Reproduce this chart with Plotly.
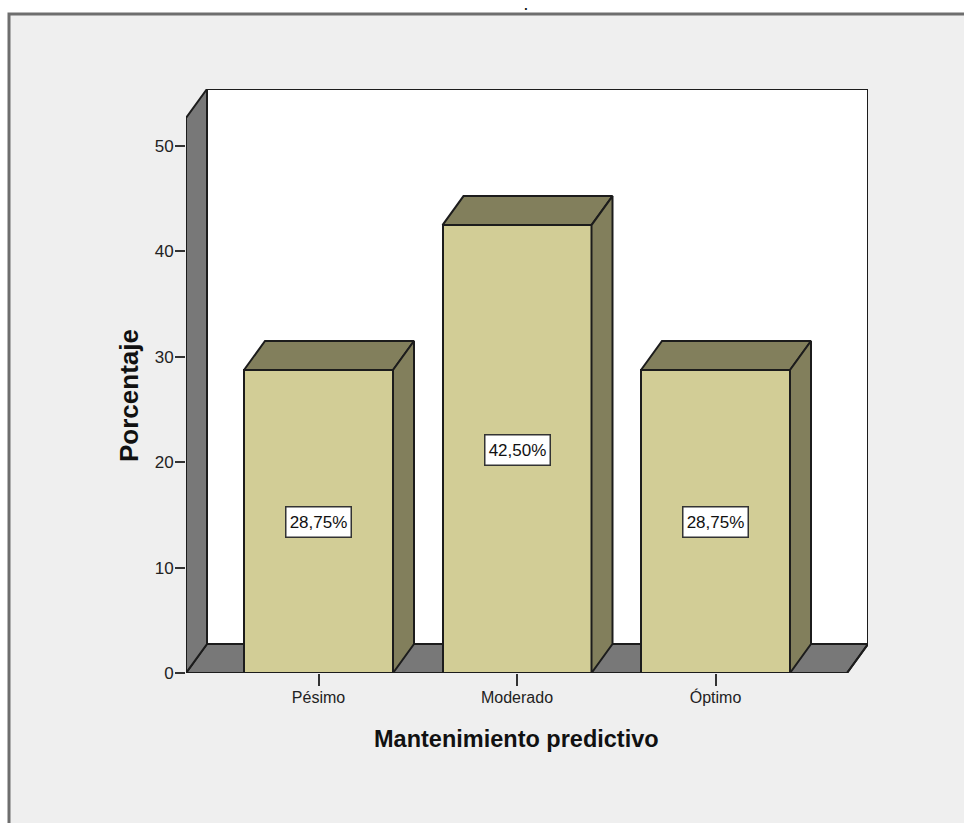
import plotly.graph_objects as go

# Chart data
categories = ["Pésimo", "Moderado", "Óptimo"]
percentages = [28.75, 42.50, 28.75]
y_ticks = [0, 10, 20, 30, 40, 50]
x_title = "Mantenimiento predictivo"
y_title = "Porcentaje"

# Page and plot geometry in pixels
W, H = 964, 823
PLOT_L, PLOT_R, PLOT_T, PLOT_B = 186, 868, 89, 673
PX_PER_CAT = 198.5
PX_PER_UNIT = 10.54
CAT0_PX = 318.5

# Extruded look: depth offset in axis units
DX = 21 / PX_PER_CAT
DY = 29 / PX_PER_UNIT
BAR_W = 149 / PX_PER_CAT
X0 = (PLOT_L - CAT0_PX) / PX_PER_CAT
X1 = (PLOT_R - CAT0_PX) / PX_PER_CAT
Y1 = (PLOT_B - PLOT_T) / PX_PER_UNIT
FRONT_R = X1 - DX
FRONT_T = Y1 - DY

FACE = "#D2CD96"
SHADE = "#827F5C"
WALL = "#787878"
EDGE = "#1c1c1c"
PANEL = "#EFEFEF"
SANS = "Liberation Sans, Arial, sans-serif"


def paper_x(px):
    return (px - PLOT_L) / (PLOT_R - PLOT_L)


def paper_y(py):
    return (PLOT_B - py) / (PLOT_B - PLOT_T)


def outline(xs, ys):
    """Dark edge that may overhang the plot rectangle."""
    return go.Scatter(
        x=xs, y=ys, mode="lines", line=dict(color=EDGE, width=2),
        hoverinfo="skip", showlegend=False, cliponaxis=False,
    )


def poly(xs, ys, fill):
    """Closed filled polygon in data coordinates."""
    return go.Scatter(
        x=xs + xs[:1], y=ys + ys[:1], mode="lines", fill="toself", fillcolor=fill,
        line=dict(color=EDGE, width=2), hoverinfo="skip", showlegend=False,
        cliponaxis=False,
    )


fig = go.Figure()

# Front faces of the columns
fig.add_trace(go.Bar(
    x=list(range(len(categories))), y=percentages, width=BAR_W,
    marker=dict(color=FACE, line=dict(color=EDGE, width=2)),
    showlegend=False, hoverinfo="skip",
))

# Left wall of the chart box
fig.add_trace(poly([X0, X0 + DX, X0 + DX, X0], [FRONT_T, Y1, DY, 0], WALL))

# Top and side faces of each column
for i, v in enumerate(percentages):
    l, r = i - BAR_W / 2, i + BAR_W / 2
    fig.add_trace(poly([l, r, r + DX, l + DX], [v, v, v + DY, v + DY], SHADE))
    fig.add_trace(poly([r, r + DX, r + DX, r], [v, v + DY, DY, 0], SHADE))

# Outer edges of the box: floor front, back wall top and right, floor right
fig.add_trace(outline([X0, FRONT_R], [0, 0]))
fig.add_trace(outline([X0 + DX, X1, X1, FRONT_R], [Y1, Y1, DY, 0]))

shapes = [
    # Grey panel with its dark top and left rules
    dict(type="rect", xref="paper", yref="paper", layer="below",
         x0=paper_x(9), x1=paper_x(W + 5), y0=paper_y(H + 5), y1=paper_y(14),
         fillcolor=PANEL, line=dict(color="#6e6e6e", width=3)),
    # White back wall
    dict(type="rect", layer="below", x0=X0 + DX, x1=X1, y0=DY, y1=Y1,
         fillcolor="white", line=dict(color=EDGE, width=2)),
    # Floor
    dict(type="path", layer="below",
         path=f"M {X0},0 L {FRONT_R},0 L {X1},{DY} L {X0 + DX},{DY} Z",
         fillcolor=WALL, line=dict(color=EDGE, width=2)),
]

annotations = [
    # Percentage labels at mid-height of each column
    dict(x=i, y=v / 2, yshift=-1, text=f"{v:.2f}".replace(".", ",") + "%", showarrow=False,
         font=dict(family=SANS, size=17, color="#111111"), width=64, height=29,
         bgcolor="white", bordercolor="#333333", borderwidth=1.5, borderpad=0)
    for i, v in enumerate(percentages)
]
# Chart title holds only a period
annotations.append(dict(xref="paper", yref="paper", x=paper_x(526), y=paper_y(0),
                        text="<b>.</b>", showarrow=False, xanchor="center", yanchor="top",
                        borderpad=0, font=dict(family="DejaVu Sans", size=10, color="#111111")))
annotations.append(dict(xref="paper", yref="paper", x=paper_x(516), y=paper_y(739),
                        text=f"<b>{x_title}</b>", showarrow=False,
                        xanchor="center", yanchor="middle",
                        font=dict(family=SANS, size=23.5, color="#111111")))
annotations.append(dict(xref="paper", yref="paper", x=paper_x(129), y=paper_y(396),
                        text=f"<b>{y_title}</b>", showarrow=False, textangle=-90,
                        xanchor="center", yanchor="middle",
                        font=dict(family=SANS, size=26, color="#111111")))

fig.update_layout(
    width=W, height=H, autosize=False, bargap=0,
    margin=dict(l=PLOT_L, r=W - PLOT_R, t=PLOT_T, b=H - PLOT_B, pad=0),
    paper_bgcolor="white", plot_bgcolor="rgba(0,0,0,0)",
    shapes=shapes, annotations=annotations,
    xaxis=dict(range=[X0, X1], tickmode="array", tickvals=list(range(len(categories))),
               ticktext=categories, ticks="outside", ticklen=12, tickwidth=2,
               tickcolor="#333333", showgrid=False, zeroline=False, showline=False,
               ticklabelstandoff=-2,
               tickfont=dict(family=SANS, size=16, color="#222222")),
    yaxis=dict(range=[0, Y1], tickmode="array", tickvals=y_ticks,
               ticks="outside", ticklen=10, tickwidth=2, tickcolor="#333333",
               showgrid=False, zeroline=False, showline=False,
               ticklabelstandoff=-2,
               tickfont=dict(family=SANS, size=17, color="#222222")),
)

fig.write_html("out.html", config=dict(displayModeBar=False))
